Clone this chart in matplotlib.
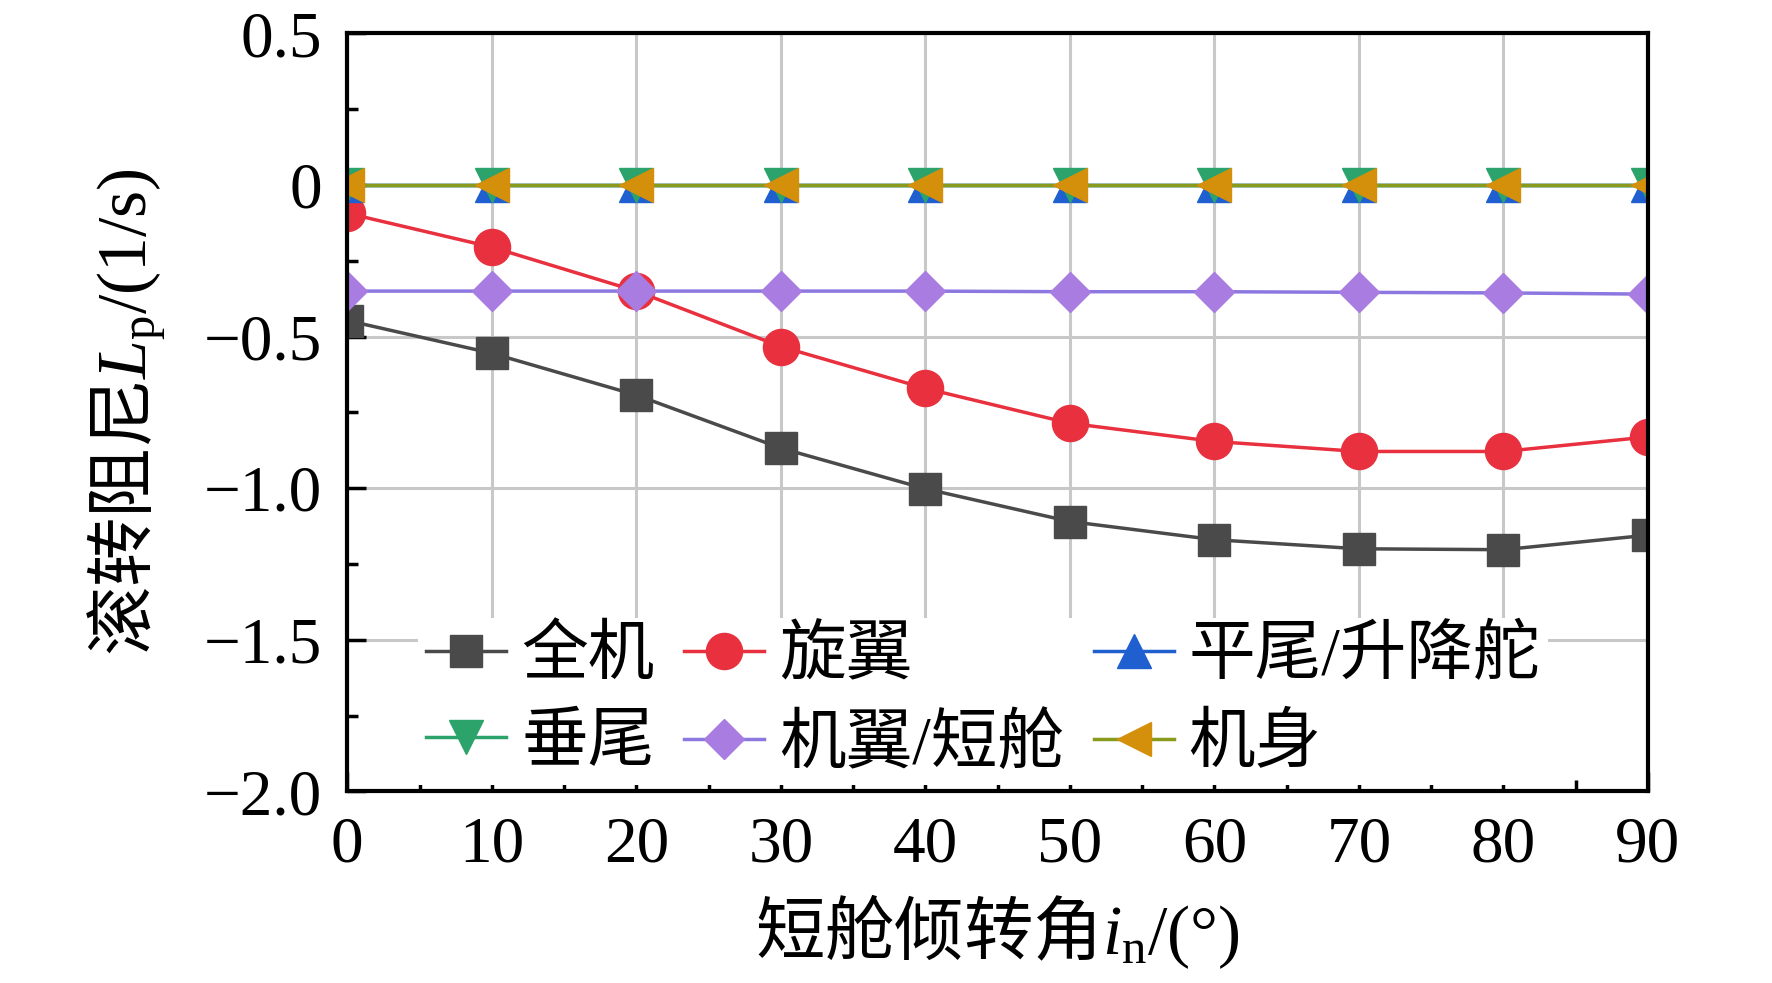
import matplotlib
matplotlib.use("Agg")
import matplotlib.pyplot as plt
from matplotlib.ticker import MultipleLocator

plt.rcParams['font.family'] = ['Liberation Serif', 'Noto Sans CJK SC', 'DejaVu Sans']
plt.rcParams['mathtext.fontset'] = 'custom'
plt.rcParams['mathtext.rm'] = 'Liberation Serif'
plt.rcParams['mathtext.it'] = 'Liberation Serif:italic'
plt.rcParams['mathtext.sf'] = 'Noto Sans CJK SC'

angles = [0, 10, 20, 30, 40, 50, 60, 70, 80, 90]
full_aircraft = [-0.447, -0.555, -0.693, -0.868, -1.002, -1.110, -1.170, -1.200, -1.203, -1.155]
rotor = [-0.093, -0.205, -0.350, -0.533, -0.671, -0.786, -0.846, -0.879, -0.879, -0.831]
htail = [0, 0, 0, 0, 0, 0, 0, 0, 0, 0]
vtail = [0, 0, 0, 0, 0, 0, 0, 0, 0, 0]
wing_nacelle = [-0.350, -0.350, -0.350, -0.350, -0.350, -0.352, -0.352, -0.354, -0.356, -0.360]
fuselage = [0, 0, 0, 0, 0, 0, 0, 0, 0, 0]

labels = ['全机', '旋翼', '平尾/升降舵', '垂尾', '机翼/短舱', '机身']

fig = plt.figure(figsize=(17.72, 9.83), dpi=100)
ax = fig.add_axes([0.196, 0.195, 0.734, 0.771])

lw = 2.5
h1, = ax.plot(angles, full_aircraft, '-s', color='#4a4a4a', ms=23, lw=lw, label=labels[0], zorder=5)
h2, = ax.plot(angles, rotor, '-o', color='#e8303f', mfc='#e8303f', ms=26, lw=lw, label=labels[1], zorder=5)
h3, = ax.plot(angles, htail, '-^', color='#1f5fd0', ms=24, lw=lw, label=labels[2], zorder=5)
h4, = ax.plot(angles, vtail, '-v', color='#2ca36b', ms=24, lw=lw, label=labels[3], zorder=5)
h5, = ax.plot(angles, wing_nacelle, '-D', color='#8c78e0', mfc='#a87ce0', mec='#a87ce0', ms=20, lw=lw,
              label=labels[4], zorder=5)
h6, = ax.plot(angles, fuselage, '-<', color='#8a9a1c', mfc='#d4900a', mec='#d4900a', ms=24, lw=lw,
              label=labels[5], zorder=5)

ax.set_xlim(0, 90)
ax.set_ylim(-2.0, 0.5)
ax.xaxis.set_major_locator(MultipleLocator(10))
ax.xaxis.set_minor_locator(MultipleLocator(5))
ax.yaxis.set_minor_locator(MultipleLocator(0.25))
ax.set_yticks([0.5, 0, -0.5, -1.0, -1.5, -2.0])
ax.set_yticklabels(['0.5', '0', '\u22120.5', '\u22121.0', '\u22121.5', '\u22122.0'])

ax.grid(True, which='major', color='#c8c8c8', lw=2.2, zorder=0)
ax.tick_params(which='major', direction='in', length=14, width=2.5, labelsize=47)
ax.tick_params(axis='x', which='major', pad=18)
ax.tick_params(axis='y', which='major', pad=18)
ax.tick_params(which='minor', direction='in', length=8, width=2.5)
for s in ax.spines.values():
    s.set_linewidth(3)
    s.set_zorder(6)
ax.set_axisbelow(True)

ax.set_xlabel('$\\mathsf{短舱倾转角}\\mathit{i}_\\mathrm{n}\\mathrm{/(°)}$', fontsize=50, labelpad=12)
ax.set_ylabel('$\\mathsf{滚转阻尼}\\mathit{L}_\\mathrm{p}\\mathrm{/(1/s)}$', fontsize=50, labelpad=26)

leg = ax.legend(handles=[h1, h4, h2, h5, h3, h6],
                labels=[labels[0], labels[3], labels[1], labels[4], labels[2], labels[5]],
                ncol=3, loc='lower left', bbox_to_anchor=(0.029, -0.035),
                fontsize=48, frameon=True, fancybox=False, framealpha=1,
                facecolor='white', edgecolor='none',
                handlelength=1.2, handletextpad=0.22, columnspacing=0.45,
                labelspacing=0.38, borderpad=0.12, markerscale=1.0)
leg.set_zorder(4)

fig.savefig('out.png', dpi=100, facecolor='white')
